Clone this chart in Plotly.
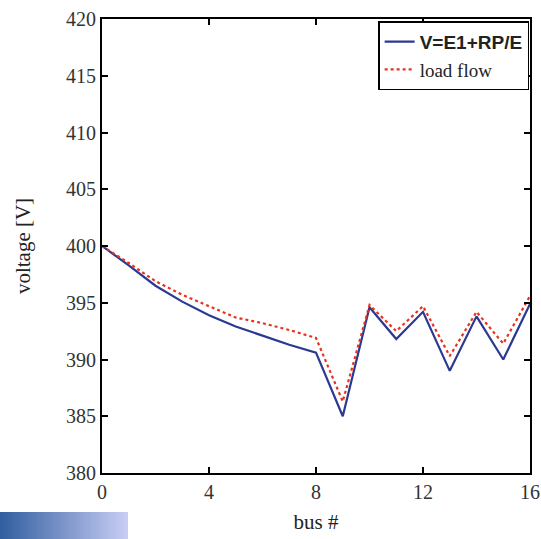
import plotly.graph_objects as go

bus = list(range(17))
v_formula = [400.0, 398.3, 396.5, 395.1, 393.9, 392.9, 392.1, 391.3, 390.6,
             385.0, 394.6, 391.8, 394.2, 389.0, 393.8, 390.0, 394.9]
v_loadflow = [400.0, 398.5, 396.9, 395.7, 394.7, 393.7, 393.2, 392.6, 391.9,
              386.3, 394.8, 392.5, 394.7, 390.3, 394.2, 391.4, 395.6]

x_ticks = [0, 4, 8, 12, 16]
y_ticks = [380, 385, 390, 395, 400, 405, 410, 415, 420]

fig = go.Figure()
fig.add_trace(go.Scatter(
    x=bus, y=v_formula, mode="lines",
    name='<span style="font-family:Liberation Sans;font-weight:bold">V=E1+RP/E</span>',
    line=dict(color="#2b3990", width=2.2)))
fig.add_trace(go.Scatter(
    x=bus, y=v_loadflow, mode="lines", name="load flow",
    line=dict(color="#e8321e", width=2.2, dash="dot")))

axis_common = dict(showline=True, linecolor="black", linewidth=2, mirror="ticks",
                   ticks="inside", ticklen=6, tickwidth=2, tickcolor="black",
                   showgrid=False, zeroline=False, automargin=False,
                   tickfont=dict(family="Liberation Serif", size=20, color="#333"))

fig.update_xaxes(range=[0, 16], tickvals=x_ticks,
                 title=dict(text="bus #", font=dict(family="Liberation Serif", size=21, color="#222"),
                            standoff=12),
                 **axis_common)
fig.update_yaxes(range=[380, 420], tickvals=y_ticks,
                 title=dict(text="voltage [V]", font=dict(family="Liberation Serif", size=21, color="#222"),
                            standoff=30),
                 **axis_common)

# decorative gradient bar at the bottom left
n = 64
for i in range(n):
    t = i / (n - 1)
    r = int(50 + t * (200 - 50))
    g = int(95 + t * (205 - 95))
    b = int(160 + t * (245 - 160))
    fig.add_shape(type="rect", xref="paper", yref="paper",
                  x0=(-102 + 128 * i / n) / 428, x1=(-102 + 128 * (i + 1.6) / n) / 428 if i < n - 1 else (-102 + 128) / 428,
                  y0=-66 / 454, y1=-39 / 454,
                  fillcolor=f"rgb({r},{g},{b})", line=dict(width=0), layer="below")

fig.update_layout(
    width=541, height=539,
    margin=dict(l=102, r=11, t=19, b=66),
    paper_bgcolor="white", plot_bgcolor="white",
    showlegend=True,
    legend=dict(x=0.998, y=0.995, xanchor="right", yanchor="top",
                bgcolor="white", bordercolor="black", borderwidth=1.5,
                font=dict(family="Liberation Serif", size=19, color="#222"),
                tracegroupgap=0),
)

fig.write_html("out.html")
